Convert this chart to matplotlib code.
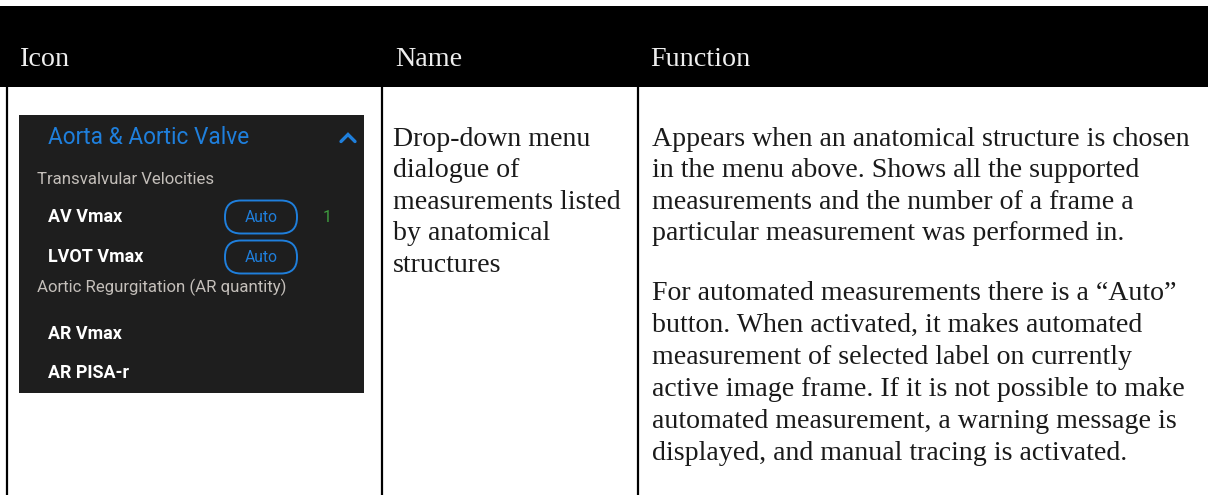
import matplotlib
matplotlib.use("Agg")
import matplotlib.pyplot as plt
from matplotlib.patches import Rectangle, FancyBboxPatch
from matplotlib.lines import Line2D

# ---------------- content ----------------
headers = ["Icon", "Name", "Function"]
name_lines = ["Drop-down menu", "dialogue of", "measurements listed",
              "by anatomical", "structures"]
func_par1 = ["Appears when an anatomical structure is chosen",
             "in the menu above. Shows all the supported",
             "measurements and the number of a frame a",
             "particular measurement was performed in."]
func_par2 = ["For automated measurements there is a \u201cAuto\u201d",
             "button. When activated, it makes automated",
             "measurement of selected label on currently",
             "active image frame. If it is not possible to make",
             "automated measurement, a warning message is",
             "displayed, and manual tracing is activated."]
menu_title = "Aorta & Aortic Valve"
menu_groups = ["Transvalvular Velocities", "Aortic Regurgitation (AR quantity)"]
menu_items = [["AV Vmax", "LVOT Vmax"], ["AR Vmax", "AR PISA-r"]]
menu_auto = [[True, True], [False, False]]
menu_frames = [["1", ""], ["", ""]]
auto_label = "Auto"

# ---------------- layout ----------------
W, H, DPI = 1208, 495, 100
SERIF = ["Liberation Serif", "DejaVu Serif"]
SANS = ["Roboto", "DejaVu Sans"]
BLUE = "#1f7fdc"
GREY = "#c4bfba"

fig = plt.figure(figsize=(W / DPI, H / DPI), dpi=DPI)
ax = fig.add_axes([0, 0, 1, 1])
ax.set_xlim(0, W)
ax.set_ylim(H, 0)
ax.axis("off")
renderer = fig.canvas.get_renderer()


def fit_size(text, family, target_px, weight="normal"):
    t = ax.text(0, 0, text, fontsize=20, family=family, fontweight=weight)
    w = t.get_window_extent(renderer).width
    t.remove()
    return 20 * target_px / w


def put(x, y, s, size, family, color="black", weight="normal", ha="left"):
    ax.text(x, y, s, fontsize=size, family=family, color=color,
            fontweight=weight, ha=ha, va="baseline")


# header band
ax.add_patch(Rectangle((0, 6), W, 81, facecolor="black", edgecolor="none"))
hdr_size = fit_size("Function", SERIF, 100)
for x, h in zip([20, 395, 650], headers):
    put(x, 66, h, hdr_size, SERIF, color="#eeeeee")

# column borders
for x in [7, 381.5, 637.5]:
    ax.add_line(Line2D([x, x], [87, H], color="black", lw=1.6))

# body text
body_size = fit_size(func_par1[0], SERIF, 537)
for i, s in enumerate(name_lines):
    put(393, 146 + 31.4 * i, s, body_size, SERIF, color="#1a1a1a")
for i, s in enumerate(func_par1):
    put(652, 146 + 31.4 * i, s, body_size, SERIF, color="#1a1a1a")
for i, s in enumerate(func_par2):
    put(652, 300.5 + 31.8 * i, s, body_size, SERIF, color="#1a1a1a")

# dark menu panel
ax.add_patch(Rectangle((19, 115), 345, 278, facecolor="#1e1e1e", edgecolor="none"))
title_size = fit_size(menu_title, SANS, 201)
put(48, 143.5, menu_title, title_size, SANS, color=BLUE)
ax.add_line(Line2D([341, 348, 355], [141.5, 134.5, 141.5], color=BLUE, lw=2.4,
                   solid_capstyle="round", solid_joinstyle="miter"))

group_size = fit_size(menu_groups[0], SANS, 177)
item_size = fit_size(menu_items[0][0], SANS, 74, weight="bold")
auto_size = fit_size(auto_label, SANS, 33)

group_y = [184, 292]
item_y = [[222.5, 262.5], [339, 378]]
for g, gname in enumerate(menu_groups):
    put(37, group_y[g], gname, group_size, SANS, color=GREY)
    for k, item in enumerate(menu_items[g]):
        y = item_y[g][k]
        put(48, y, item, item_size, SANS, color="white", weight="bold")
        if menu_auto[g][k]:
            ax.add_patch(FancyBboxPatch((225, y - 22), 72, 33,
                                        boxstyle="round,pad=0,rounding_size=16",
                                        facecolor="none", edgecolor=BLUE, lw=1.4))
            put(261, y, auto_label, auto_size, SANS, color=BLUE, ha="center")
        if menu_frames[g][k]:
            put(327, y, menu_frames[g][k], auto_size, SANS, color="#3f9e3f", ha="center")

fig.savefig("out.png", dpi=DPI, facecolor="white")
